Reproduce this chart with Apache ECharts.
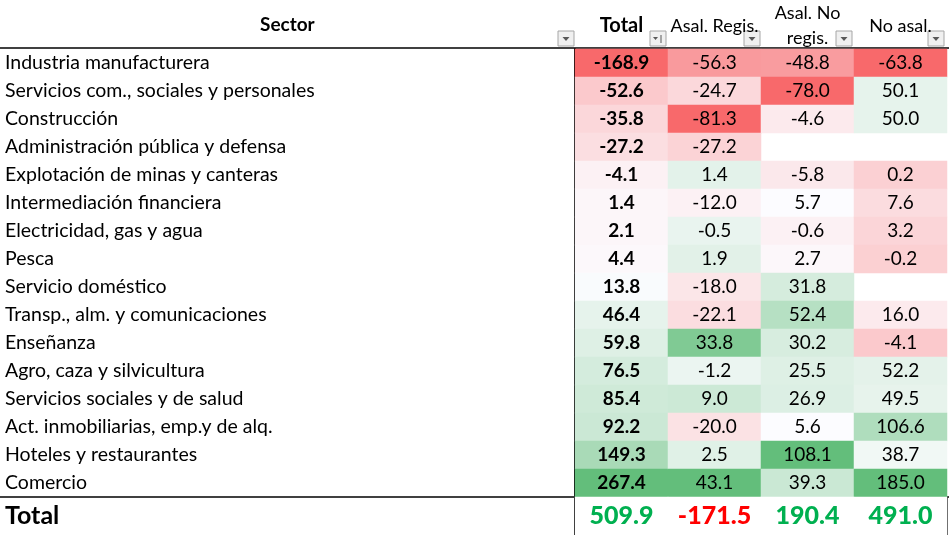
<!DOCTYPE html>
<html lang="es">
<head>
    <meta charset="UTF-8">
    <title>Sector</title>
    <style>
        html, body {margin: 0; padding: 0; background: #fff;}
        #main {width: 949px; height: 535px;}
    </style>
</head>
<body>
<div id="main"></div>
<script src="https://cdn.jsdelivr.net/npm/echarts@6/dist/echarts.min.js"></script>
<script>
    const sectors = [
        'Industria manufacturera',
        'Servicios com., sociales y personales',
        'Construcción',
        'Administración pública y defensa',
        'Explotación de minas y canteras',
        'Intermediación financiera',
        'Electricidad, gas y agua',
        'Pesca',
        'Servicio doméstico',
        'Transp., alm. y comunicaciones',
        'Enseñanza',
        'Agro, caza y silvicultura',
        'Servicios sociales y de salud',
        'Act. inmobiliarias, emp.y de alq.',
        'Hoteles y restaurantes',
        'Comercio'
    ];
    const columns     = ['Total', 'Asal. Regis.', 'Asal. No\nregis.', 'No asal.'];
    const total       = [-168.9, -52.6, -35.8, -27.2, -4.1, 1.4, 2.1, 4.4, 13.8, 46.4, 59.8, 76.5, 85.4, 92.2, 149.3, 267.4];
    const asalRegis   = [-56.3, -24.7, -81.3, -27.2, 1.4, -12.0, -0.5, 1.9, -18.0, -22.1, 33.8, -1.2, 9.0, -20.0, 2.5, 43.1];
    const asalNoRegis = [-48.8, -78.0, -4.6, null, -5.8, 5.7, -0.6, 2.7, 31.8, 52.4, 30.2, 25.5, 26.9, 5.6, 108.1, 39.3];
    const noAsal      = [-63.8, 50.1, 50.0, null, 0.2, 7.6, 3.2, -0.2, null, 16.0, -4.1, 52.2, 49.5, 106.6, 38.7, 185.0];
    const grandTotal  = [509.9, -171.5, 190.4, 491.0];

    const FONT = 'Lato';

    // escala de color por columna: min rojo, mediana blanco, max verde (como Excel)
    function scaleOf(arr) {
        let v   = arr.filter(d => d !== null).sort((a, b) => a - b);
        let n   = v.length;
        let med = n % 2 ? v[(n - 1) / 2] : (v[n / 2 - 1] + v[n / 2]) / 2;
        return {min: v[0], med: med, max: v[n - 1]};
    }

    let cells = [];
    [total, asalRegis, asalNoRegis, noAsal].forEach(function (arr, ci) {
        let s = scaleOf(arr);
        arr.forEach(function (val, ri) {
            if (val === null) return;
            let t = val <= s.med ? (val - s.med) / (s.med - s.min) : (val - s.med) / (s.max - s.med);
            cells.push({
                value: [ci, ri, val, t],
                label: {fontWeight: ci === 0 ? 'bold' : 'normal'}
            });
        });
    });

    let totalCells = grandTotal.map(function (val, ci) {
        return {
            value    : [ci, 0, val],
            itemStyle: {color: '#ffffff'},
            label    : {color: val < 0 ? '#FF0000' : '#00B050'}
        };
    });

    // botones de filtro de la cabecera
    function filterButton(right, sort) {
        let children = [
            {type: 'rect', shape: {x: right - 17, y: 31, width: 16, height: 15}, style: {fill: '#F0F0F0', stroke: '#A6A6A6', lineWidth: 1}},
            {type: 'polygon', shape: {points: sort ? [[right - 14, 37], [right - 9, 37], [right - 11.5, 40]] : [[right - 12.5, 37], [right - 5.5, 37], [right - 9, 41]]}, style: {fill: '#595959'}}
        ];
        if (sort) {
            children.push({type: 'line', shape: {x1: right - 6, y1: 35, x2: right - 6, y2: 43}, style: {stroke: '#595959', lineWidth: 1}});
        }
        return {type: 'group', children: children};
    }

    let chart = echarts.init(document.getElementById('main'));
    chart.setOption({
        animation: false,
        textStyle: {fontFamily: FONT},
        grid     : [
            {left: 575, right: 2, top: 49, height: 448},
            {left: 575, right: 2, top: 497, height: 38}
        ],
        xAxis    : [
            {
                type     : 'category', data: columns, position: 'top', gridIndex: 0,
                axisLine : {show: false}, axisTick: {show: false}, splitLine: {show: false},
                axisLabel: {
                    interval: 0, hideOverlap: false,
                    margin: 23, verticalAlign: 'middle', color: '#000', fontSize: 18, lineHeight: 25,
                    fontFamily: FONT,
                    formatter: function (v, i) {
                        return i === 0 ? '{b|' + v + '}' : v;
                    },
                    rich: {b: {fontWeight: 'bold', fontSize: 20, fontFamily: FONT, color: '#000'}}
                }
            },
            {
                type     : 'category', data: columns, gridIndex: 1, position: 'top',
                axisLine : {show: false}, axisTick: {show: false}, axisLabel: {show: false},
                splitLine: {
                    show: true, lineStyle: {color: '#000', width: 1.5},
                    interval: function (i) { return i === 2 || i === 3; }
                }
            }
        ],
        yAxis    : [
            {
                type     : 'category', data: sectors, inverse: true, gridIndex: 0,
                axisLine : {show: true, lineStyle: {color: '#000', width: 2}},
                axisTick : {show: false},
                axisLabel: {interval: 0, align: 'left', margin: 570, color: '#000', fontSize: 19.5, fontFamily: FONT}
            },
            {
                type     : 'category', data: ['Total'], gridIndex: 1,
                axisLine : {show: true, lineStyle: {color: '#000', width: 2}},
                axisTick : {show: false},
                axisLabel: {align: 'left', margin: 570, color: '#000', fontSize: 25, fontWeight: 'bold', fontFamily: FONT}
            }
        ],
        visualMap: {
            show     : false,
            seriesIndex: 0,
            dimension: 3,
            min      : -1,
            max      : 1,
            inRange  : {color: ['#F8696B', '#FCFCFF', '#63BE7B']}
        },
        series   : [
            {
                type      : 'heatmap',
                xAxisIndex: 0, yAxisIndex: 0,
                data      : cells,
                label     : {
                    show     : true, color: '#000', fontSize: 19, fontFamily: FONT,
                    formatter: function (p) { return p.value[2].toFixed(1); }
                },
                emphasis  : {disabled: true}
            },
            {
                type      : 'heatmap',
                xAxisIndex: 1, yAxisIndex: 1,
                data      : totalCells,
                label     : {
                    show     : true, fontSize: 25, fontWeight: 900, fontFamily: FONT,
                    formatter: function (p) { return p.value[2].toFixed(1); }
                },
                emphasis  : {disabled: true}
            }
        ],
        graphic  : [
            {type: 'text', left: 260, top: 15, style: {text: 'Sector', font: 'bold 19px ' + FONT, fill: '#000'}},
            {type: 'line', shape: {x1: 0, y1: 48, x2: 949, y2: 48}, style: {stroke: '#000', lineWidth: 1.5}},
            {type: 'line', shape: {x1: 0, y1: 497, x2: 949, y2: 497}, style: {stroke: '#000', lineWidth: 1.5}},
            filterButton(575, false),
            filterButton(667, true),
            filterButton(761, false),
            filterButton(853, false),
            filterButton(945, false)
        ]
    });
</script>
</body>
</html>
